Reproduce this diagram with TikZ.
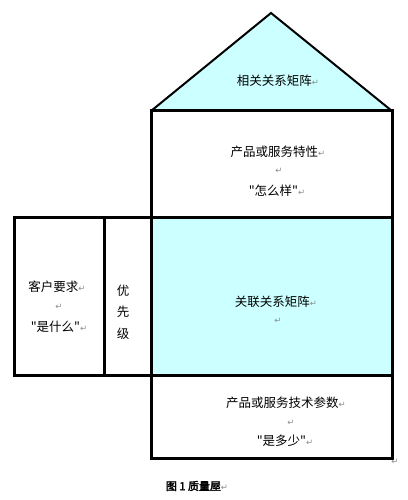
\documentclass[tikz,border=0pt]{standalone}
\usepackage{fontspec}
\newfontfamily\cjk{Noto Sans CJK SC}
\newfontfamily\cjkbold[FakeBold=2.5]{Noto Sans CJK SC}
\newfontfamily\djv{DejaVu Sans}
\definecolor{lcyan}{HTML}{CCFFFF}
\definecolor{markgray}{HTML}{8C8C8C}
\newcommand\parmark{{\djv\fontsize{8.5}{8.5}\selectfont\textcolor{markgray}{↵}}}
\begin{document}
\begin{tikzpicture}[x=1pt,y=-1pt,
  heavy/.style={line width=3pt},
  roofline/.style={line width=2pt},
  lbl/.style={font=\cjk\fontsize{12.5}{15}\selectfont, inner sep=0pt, anchor=center},
  captext/.style={font=\cjkbold\fontsize{11}{13}\selectfont, inner sep=0pt, anchor=center}]
\useasboundingbox (0,0) rectangle (407,500);
\fill[white] (0,0) rectangle (407,500);
% corner coordinates
\coordinate (apex) at (271,13);
\coordinate (rl) at (151,111);
\coordinate (rr) at (392,111);
% fills
\fill[lcyan] (rl) -- (apex) -- (rr) -- cycle;
\fill[lcyan] (151,217) rectangle (392,375);
% outlines
\draw[roofline, line join=miter] (rl) -- (apex) -- (rr);
\draw[heavy] (151,111) rectangle (392,458);
\draw[heavy] (14,217) rectangle (392,375);
\draw[heavy] (104,217) -- (104,375);
% texts
\node[lbl] (roof) at (278,81) {相关关系矩阵\parmark};
\node[lbl] (feat) at (278,152) {产品或服务特性\parmark};
\node[lbl] (featm) at (279,171) {\parmark};
\node[lbl] (how) at (277,191) {"怎么样"\parmark};
\node[lbl] (cust) at (57,287) {客户要求\parmark};
\node[lbl] (custm) at (59,307) {\parmark};
\node[lbl] (what) at (59,327) {"是什么"\parmark};
\node[lbl, align=center, font=\cjk\fontsize{12.5}{21.5}\selectfont] (prio) at (123,312) {优\\先\\级};
\node[lbl] (rel) at (276,302) {关联关系矩阵\parmark};
\node[lbl] (relm) at (278,321) {\parmark};
\node[lbl] (tech) at (286,403) {产品或服务技术参数\parmark};
\node[lbl] (techm) at (291,423) {\parmark};
\node[lbl] (much) at (285,441) {"是多少"\parmark};
\node[lbl] (endm) at (395,462) {\parmark};
\node[captext] (title) at (197,486) {图 1 质量屋\parmark};
\end{tikzpicture}
\end{document}
